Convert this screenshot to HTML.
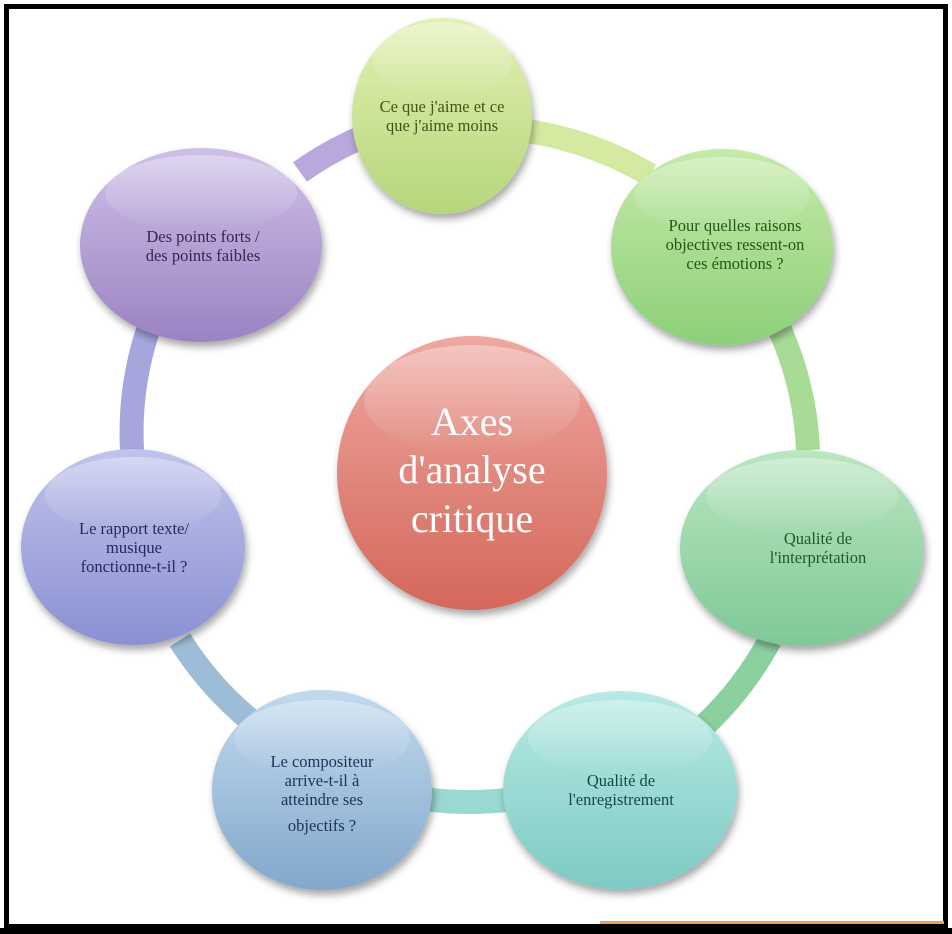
<!DOCTYPE html>
<html><head><meta charset="utf-8"><style>
html,body{margin:0;padding:0;background:#fff;width:952px;height:934px;overflow:hidden}
svg{display:block}
text{font-family:"Liberation Serif",serif;text-anchor:middle}
</style></head><body>
<svg width="952" height="934" viewBox="0 0 952 934" xmlns="http://www.w3.org/2000/svg">
<defs>
<filter id="sh" x="-20%" y="-20%" width="140%" height="140%"><feGaussianBlur in="SourceAlpha" stdDeviation="4"/><feOffset dx="2" dy="5"/><feComponentTransfer><feFuncA type="linear" slope="0.35"/></feComponentTransfer><feMerge><feMergeNode/><feMergeNode in="SourceGraphic"/></feMerge></filter>
<linearGradient id="gY" x1="0" y1="0" x2="0" y2="1"><stop offset="0" stop-color="#e2f0b2"/><stop offset="1" stop-color="#b5d67a"/></linearGradient>
<linearGradient id="gG" x1="0" y1="0" x2="0" y2="1"><stop offset="0" stop-color="#c6eaa8"/><stop offset="1" stop-color="#8cd07a"/></linearGradient>
<linearGradient id="gM" x1="0" y1="0" x2="0" y2="1"><stop offset="0" stop-color="#bae6c0"/><stop offset="1" stop-color="#80c898"/></linearGradient>
<linearGradient id="gT" x1="0" y1="0" x2="0" y2="1"><stop offset="0" stop-color="#b8eae4"/><stop offset="1" stop-color="#7ecac4"/></linearGradient>
<linearGradient id="gB" x1="0" y1="0" x2="0" y2="1"><stop offset="0" stop-color="#c2d9ee"/><stop offset="1" stop-color="#82a8cc"/></linearGradient>
<linearGradient id="gI" x1="0" y1="0" x2="0" y2="1"><stop offset="0" stop-color="#c0c4ec"/><stop offset="1" stop-color="#8a90d2"/></linearGradient>
<linearGradient id="gP" x1="0" y1="0" x2="0" y2="1"><stop offset="0" stop-color="#cfc0e8"/><stop offset="1" stop-color="#9c82c2"/></linearGradient>
<linearGradient id="gR" x1="0" y1="0" x2="0" y2="1"><stop offset="0" stop-color="#eea8a0"/><stop offset="1" stop-color="#d4675a"/></linearGradient>
<linearGradient id="hl" x1="0" y1="0" x2="0" y2="1"><stop offset="0" stop-color="#fff" stop-opacity="0.35"/><stop offset="1" stop-color="#fff" stop-opacity="0"/></linearGradient>
</defs>
<rect x="0" y="0" width="952" height="934" fill="#fff"/>
<rect x="6.5" y="6.5" width="939" height="920" fill="none" stroke="#000" stroke-width="5"/>
<rect x="600" y="921" width="344" height="3" fill="#e8a060"/>
<rect x="0" y="928" width="952" height="6" fill="#000"/>
<g fill="none" stroke-width="24" stroke-linecap="butt">
<path d="M300 172 A340 335 0 0 1 380 130" stroke="#b8a8de"/>
<path d="M520 130 A340 335 0 0 1 650 175" stroke="#d4eaa0"/>
<path d="M780 330 A340 335 0 0 1 808 450" stroke="#a8dc96"/>
<path d="M770 640 A340 335 0 0 1 705 725" stroke="#8cd0a0"/>
<path d="M560 790 A340 335 0 0 1 400 795" stroke="#9ad8d2"/>
<path d="M250 720 A340 335 0 0 1 180 640" stroke="#9cbcd8"/>
<path d="M132 450 A340 335 0 0 1 148 330" stroke="#a4a6dc"/>
</g>
<g filter="url(#sh)">
<ellipse cx="442" cy="116" rx="90" ry="98" fill="url(#gY)"/>
<ellipse cx="722" cy="247" rx="111" ry="98" fill="url(#gG)"/>
<ellipse cx="802" cy="548" rx="122" ry="98" fill="url(#gM)"/>
<ellipse cx="620" cy="790" rx="117" ry="99" fill="url(#gT)"/>
<ellipse cx="322" cy="790" rx="110" ry="100" fill="url(#gB)"/>
<ellipse cx="133" cy="547" rx="112" ry="98" fill="url(#gI)"/>
<ellipse cx="201" cy="245" rx="121" ry="97" fill="url(#gP)"/>
<ellipse cx="472" cy="473" rx="135" ry="137" fill="url(#gR)"/>
</g>
<g fill="url(#hl)">
<ellipse cx="442" cy="60" rx="70" ry="38"/>
<ellipse cx="722" cy="195" rx="88" ry="38"/>
<ellipse cx="802" cy="496" rx="96" ry="38"/>
<ellipse cx="620" cy="738" rx="92" ry="38"/>
<ellipse cx="322" cy="738" rx="88" ry="38"/>
<ellipse cx="133" cy="495" rx="88" ry="38"/>
<ellipse cx="201" cy="193" rx="96" ry="38"/>
<ellipse cx="472" cy="400" rx="108" ry="55"/>
</g>
<g font-size="16.5">
<text fill="#44541a"><tspan x="442" y="112">Ce que j'aime et ce</tspan><tspan x="442" y="131">que j'aime moins</tspan></text>
<text fill="#2a5518"><tspan x="735" y="231">Pour quelles raisons</tspan><tspan x="735" y="250">objectives ressent-on</tspan><tspan x="735" y="269">ces émotions ?</tspan></text>
<text fill="#1d5c28"><tspan x="818" y="544">Qualité de</tspan><tspan x="818" y="563">l'interprétation</tspan></text>
<text fill="#1a484a"><tspan x="621" y="786">Qualité de</tspan><tspan x="621" y="805">l'enregistrement</tspan></text>
<text fill="#1e3254"><tspan x="322" y="767">Le compositeur</tspan><tspan x="322" y="786">arrive-t-il à</tspan><tspan x="322" y="805">atteindre ses</tspan><tspan x="322" y="831">objectifs ?</tspan></text>
<text fill="#262858"><tspan x="134" y="534">Le rapport texte/</tspan><tspan x="134" y="553">musique</tspan><tspan x="134" y="572">fonctionne-t-il ?</tspan></text>
<text fill="#362650"><tspan x="203" y="242">Des points forts /</tspan><tspan x="203" y="261">des points faibles</tspan></text>
</g>
<text fill="#fff" font-size="40"><tspan x="472" y="435">Axes</tspan><tspan x="472" y="483">d'analyse</tspan><tspan x="472" y="532">critique</tspan></text>
</svg>
</body></html>
